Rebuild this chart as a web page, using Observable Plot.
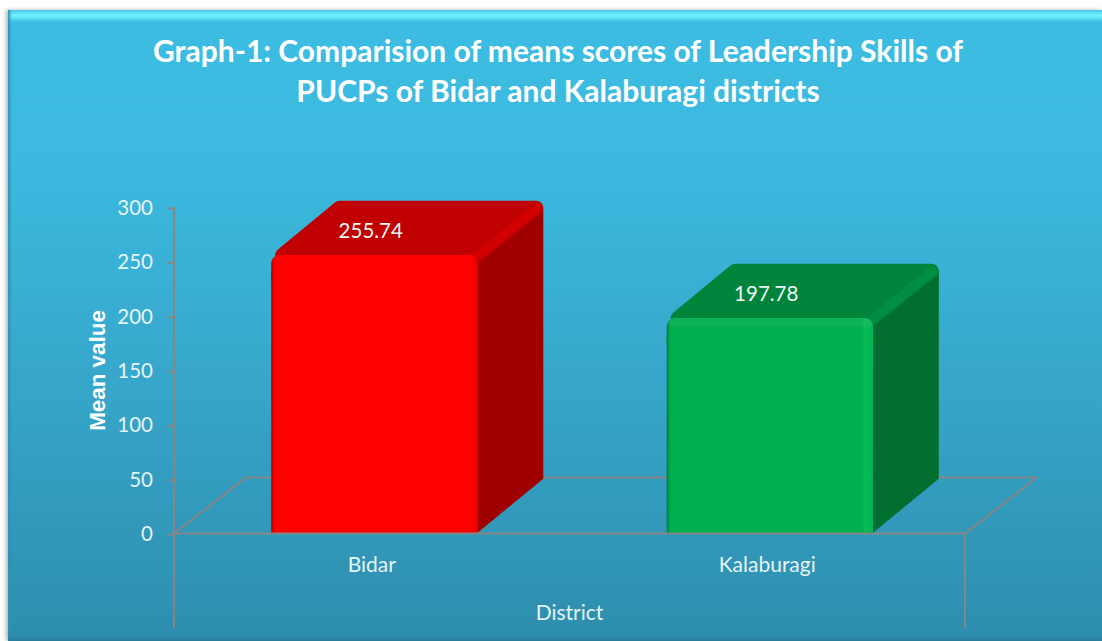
<!DOCTYPE html>
<html>
<head>
<meta charset="utf-8">
<script src="https://cdn.jsdelivr.net/npm/d3@7"></script>
<script src="https://cdn.jsdelivr.net/npm/@observablehq/plot@0.6"></script>
<style>
  html, body { margin: 0; padding: 0; background: #fff; width: 1102px; height: 641px; overflow: hidden; font-family: Lato, sans-serif; }
  #panel { position: absolute; left: 8px; top: 10px; width: 1094px; height: 631px;
    background: linear-gradient(to bottom, #3DBDE3 0%, #3CB9DF 25%, #36A6C9 60%, #2E8DAD 100%);
    box-shadow: -2px 0 4px rgba(0,0,0,.3); overflow: hidden; }
  #bevelTop { position: absolute; left: 0; top: 0; right: 0; height: 12px;
    background: linear-gradient(to bottom, #49C7E6 0%, #6FF4FF 45%, #62E4F5 65%, #3DBDE3 100%); }
  #bevelLeft { position: absolute; left: 0; top: 0; bottom: 0; width: 4px;
    background: linear-gradient(to right, #2B93B4, rgba(50,170,205,0)); }
  #bevelBottom { position: absolute; left: 0; right: 0; bottom: 0; height: 6px;
    background: linear-gradient(to bottom, rgba(43,125,155,0), #2A7C99); }
  #title { position: absolute; left: -8px; top: 20px; width: 1116px; text-align: center; color: #fff;
    font: bold 30px/40px Lato, sans-serif; margin: 0; }
  #chart { position: absolute; left: -8px; top: 110px; }
  #chart svg { background: transparent; display: block; overflow: visible; }
</style>
</head>
<body>
<div id="panel">
  <div id="bevelTop"></div>
  <div id="bevelLeft"></div>
  <div id="bevelBottom"></div>
  <h1 id="title">Graph-1: Comparision of means scores of Leadership Skills of<br>PUCPs of Bidar and Kalaburagi districts</h1>
  <div id="chart"></div>
</div>
<script>
const districts = ["Bidar", "Kalaburagi"];
const means = [255.74, 197.78];
const yTicks = [0, 50, 100, 150, 200, 250, 300];
const xAxisTitle = "District";
const yAxisTitle = "Mean value";

const frontFills = ["url(#frontRed)", "url(#frontGreen)"];
const shineFills = ["none", "url(#topShine)"];
const topFills = ["#C00000", "#00843C"];
const sideFills = ["#A00000", "#006E2E"];
const edgeFills = ["#D20000", "#008F42"];
const lineColor = "#868686";
const textColor = "#E4F4F9";

// Pseudo-3D proportions, in scale units
const barStart = 0.247, barEnd = 0.768, depthX = 0.167, depthY = 50;
const floorX = 0.182, floorY = 51.5, wallBottom = -87;

const marks = [
  Plot.line([[0, 0], [floorX, floorY], [2 + floorX, floorY], [2, 0]], {x: "0", y: "1", stroke: lineColor, strokeWidth: 2}),
];

districts.forEach((name, i) => {
  const L = i + barStart, R = i + barEnd, v = means[i];
  // half of the round-join stroke, in scale units
  const ix = 0.0177, iy = 6.44, dgx = 0.0276;
  const top = v + depthY - iy;
  const xr = R + depthX - ix;
  const side = [
    {x: R, y1: 0, y2: v},
    {x: R + depthX, y1: depthY, y2: top}
  ];
  const xl = L + dgx;
  const f = (depthY - iy) / depthY;
  const topFace = [
    {x: xl, y1: v, y2: v},
    {x: xl + depthX * f, y1: v, y2: top},
    {x: R, y1: v, y2: top},
    {x: xr, y1: top, y2: top}
  ];
  const front = [{L, R, v}];
  marks.push(
    Plot.area(side, {x1: "x", y1: "y1", y2: "y2", fill: sideFills[i]}),
    Plot.area(topFace, {x1: "x", y1: "y1", y2: "y2", fill: topFills[i], stroke: topFills[i], strokeWidth: 14, strokeLinejoin: "round"}),
    Plot.line([[R, v], [xr, top]], {x: "0", y: "1", stroke: edgeFills[i], strokeWidth: 9, strokeLinecap: "round"}),
    Plot.rect(front, {x1: "L", x2: "R", y1: d => d.v - 30, y2: "v", fill: frontFills[i], rx: 8}),
    Plot.rect(front, {x1: "L", x2: "R", y1: () => 0, y2: d => d.v - 15, fill: frontFills[i]}),
    Plot.rect(front, {x1: "L", x2: "R", y1: d => d.v - 9, y2: "v", fill: shineFills[i], rx: 8})
  );
});

marks.push(
  Plot.ruleX([0], {y1: () => wallBottom, y2: () => 300, stroke: lineColor, strokeWidth: 2}),
  Plot.ruleX([2], {y1: () => wallBottom, y2: () => 0, stroke: lineColor, strokeWidth: 2}),
  Plot.ruleY([0], {x1: () => 0, x2: () => 2, stroke: lineColor, strokeWidth: 2}),
  Plot.axisY({ticks: yTicks, tickSize: 6, tickPadding: 15, stroke: lineColor, strokeWidth: 2, fill: textColor, fontSize: 20.5, label: null, tickFormat: d => d, dy: 1}),
  Plot.text(means.map((m, i) => ({m, x: i + 0.5})), {x: "x", y: "m", text: d => d.m.toFixed(2), dx: -1, dy: -24, fill: "#EEF8F4", fontSize: 20.5, textAnchor: "middle"}),
  Plot.text(districts.map((d, i) => ({d, x: i + 0.5, y: -29})), {x: "x", y: "y", text: "d", fill: textColor, fontSize: 21}),
  Plot.text([{t: xAxisTitle, x: 1, y: -73}], {x: "x", y: "y", text: "t", fill: textColor, fontSize: 21}),
  Plot.text([{t: yAxisTitle, x: -0.193, y: 150}], {x: "x", y: "y", text: "t", fill: "#fff", fontSize: 22.4, fontWeight: "bold", fontFamily: "Liberation Sans", rotate: -90})
);

const plot = Plot.plot({
  width: 1102,
  height: 521,
  marginLeft: 173.5,
  marginRight: 137.5,
  marginTop: 87,
  marginBottom: 108,
  style: {fontFamily: "Lato, sans-serif", background: "transparent"},
  x: {domain: [0, 2], axis: null},
  y: {domain: [0, 300], axis: null},
  marks
});

const defs = d3.select(plot).insert("defs", ":first-child");
function grad(id, stops, vertical) {
  const g = defs.append("linearGradient").attr("id", id).attr("x1", 0).attr("x2", vertical ? 0 : 1).attr("y1", 0).attr("y2", vertical ? 1 : 0);
  stops.forEach(([o, c, a]) => g.append("stop").attr("offset", o).attr("stop-color", c).attr("stop-opacity", a ?? 1));
}
grad("frontRed", [["0", "#B80000"], ["0.012", "#E00000"], ["0.02", "#FF0000"], ["0.97", "#FF0000"], ["1", "#EE0000"]]);
grad("frontGreen", [["0", "#007A3A"], ["0.012", "#00A048"], ["0.02", "#00B050"], ["0.95", "#00B050"], ["0.96", "#0ABB55"], ["1", "#00B850"]]);
grad("topShine", [["0", "#fff", 0.05], ["0.7", "#fff", 0.05], ["1", "#fff", 0]], true);

document.getElementById("chart").appendChild(plot);
</script>
</body>
</html>
